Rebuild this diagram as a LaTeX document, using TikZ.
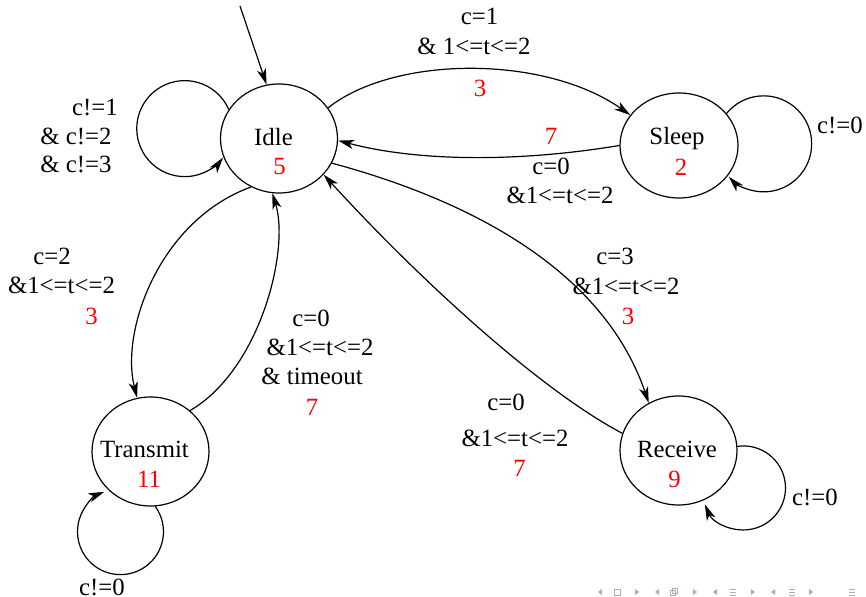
\documentclass[tikz,border=0pt]{standalone}
\usepackage{fontspec}
\setmainfont{Liberation Serif}
\usetikzlibrary{arrows.meta,shapes.geometric}
\definecolor{navgray}{RGB}{172,172,188}
\begin{document}
\begin{tikzpicture}[x=0.5pt,y=-0.5pt,
  every node/.style={font=\fontsize{12.4}{15}\selectfont},
  state/.style={draw, ellipse, line width=0.6pt, inner sep=0pt,
                minimum width=58.5pt, minimum height=54.5pt},
  txt/.style={anchor=base, inner sep=0pt},
  cost/.style={txt, text=red},
  trans/.style={line width=0.6pt, -{Stealth[length=8pt,width=4.6pt,inset=2.2pt]}},
  navsym/.style={fill=navgray, draw=none},
  navline/.style={draw=navgray, line width=0.5pt}
]
\useasboundingbox (0,0) rectangle (866,597);

% states
\node[state] (idle) at (279,138.5) {};
\node[state, minimum width=59pt, minimum height=52.5pt] (sleep) at (679,145.5) {};
\node[state] (transmit) at (150.5,451.5) {};
\node[state] (receive) at (678.5,450.5) {};

% state names and costs
\node[txt]  (idlename)  at (273.5,146) {Idle};
\node[cost] (idlecost)  at (279.5,175) {5};
\node[txt]  (sleepname) at (677,145)   {Sleep};
\node[cost] (sleepcost) at (681,176)   {2};
\node[txt]  (trname)    at (144.5,458) {Transmit};
\node[cost] (trcost)    at (149,488)   {11};
\node[txt]  (rcname)    at (677,458)   {Receive};
\node[cost] (rccost)    at (674.5,488) {9};

% initial transition
\coordinate (init) at (240,6);
\draw[trans] (init) -- (idle.103);

% transitions between states
\draw[trans] (idle.32) .. controls (395,55) and (545,55) .. (sleep.148);
\draw[trans] (sleep.180) .. controls (520,162) and (420,162) .. (idle.-2);
\draw[trans] (idle.240) .. controls (160,220) and (120,330) .. (transmit.104);
\draw[trans] (transmit.46) .. controls (260,370) and (290,250) .. (idle.263);
\draw[trans] (idle.-25) .. controls (450,195) and (600,260) .. (receive.122);
\draw[trans] (receive.163) .. controls (540,390) and (420,280) .. (idle.-39);

% self loops
\draw[trans] (idle.150) arc[start angle=-23.5, end angle=-323, radius=48];
\draw[trans] (sleep.34) arc[start angle=-140.7, end angle=136.7, radius=48];
\draw[trans] (receive.4) arc[start angle=-98.3, end angle=157, radius=42];
\draw[trans] (transmit.-85) arc[start angle=-35.9, end angle=248, radius=43];

% guards and costs: Idle -> Sleep
\node[txt]  (g1a) at (479.5,25) {c=1};
\node[txt]  (g1b) at (474,55)   {\& 1<=t<=2};
\node[cost] (g1c) at (480,97)   {3};
% Sleep -> Idle
\node[cost] (g2c) at (551,145)  {7};
\node[txt]  (g2a) at (551,175)  {c=0};
\node[txt]  (g2b) at (560,204)  {\&1<=t<=2};
% Idle loop
\node[txt]  (g3a) at (95,116)   {c!=1};
\node[txt]  (g3b) at (76,145)   {\& c!=2};
\node[txt]  (g3c) at (76,173)   {\& c!=3};
% Idle -> Transmit
\node[txt]  (g4a) at (52,265)   {c=2};
\node[txt]  (g4b) at (61.5,294) {\&1<=t<=2};
\node[cost] (g4c) at (91.5,325) {3};
% Transmit -> Idle
\node[txt]  (g5a) at (311,327)  {c=0};
\node[txt]  (g5b) at (320,356)  {\&1<=t<=2};
\node[txt]  (g5c) at (312,385)  {\& timeout};
\node[cost] (g5d) at (312,416)  {7};
% Idle -> Receive
\node[txt]  (g6a) at (615,265)  {c=3};
\node[txt]  (g6b) at (626,295)  {\&1<=t<=2};
\node[cost] (g6c) at (628,325)  {3};
% Receive -> Idle
\node[txt]  (g7a) at (506,411)  {c=0};
\node[txt]  (g7b) at (515,447)  {\&1<=t<=2};
\node[cost] (g7c) at (519.5,477){7};
% loop guards
\node[txt]  (g8)  at (840,134)  {c!=0};
\node[txt]  (g9)  at (815,506)  {c!=0};
\node[txt]  (g10) at (102,595)  {c!=0};

% navigation symbols
\foreach \x in {600,657,715,773}
  \fill[navsym] (\x-2,592) -- (\x+2,589) -- (\x+2,595) -- cycle;
\foreach \x in {637,695,753,811}
  \fill[navsym] (\x+2,592) -- (\x-2,589) -- (\x-2,595) -- cycle;
\draw[navline] (614,589) rectangle (620,595);
\draw[navline] (670,590) rectangle (675,595);
\draw[navline] (672,588) rectangle (677,593);
\foreach \x in {733,792,852} {
  \draw[navline] (\x-3,589) -- (\x+3,589);
  \draw[navline] (\x-3,592) -- (\x+3,592);
  \draw[navline] (\x-3,595) -- (\x+3,595);
}
\end{tikzpicture}
\end{document}
